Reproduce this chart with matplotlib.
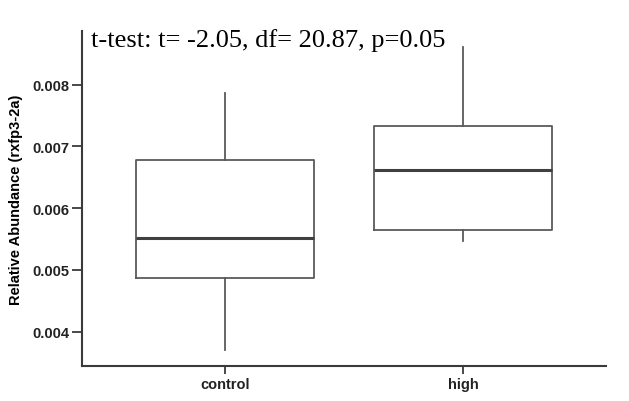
import matplotlib as mpl
import matplotlib.pyplot as plt

mpl.rcParams['font.family'] = 'Liberation Sans'

groups = ['control', 'high']
whislo = [0.003704, 0.005463]
q1 = [0.004874, 0.005641]
med = [0.005516, 0.006617]
q3 = [0.006773, 0.007328]
whishi = [0.007860, 0.008612]

stats = []
for i in range(len(groups)):
    stats.append({'label': groups[i], 'whislo': whislo[i], 'q1': q1[i],
                  'med': med[i], 'q3': q3[i], 'whishi': whishi[i], 'fliers': []})

fig = plt.figure(figsize=(6.29, 4.02), dpi=100)
ax = fig.add_axes([82/629, 1 - 366.7/402, (606-82)/629, (366.7-32)/402])

line_col = '#5a5a5a'
ax.bxp(stats, positions=[0, 1], widths=0.75, showcaps=False,
       boxprops=dict(color=line_col, linewidth=1.3),
       whiskerprops=dict(color=line_col, linewidth=1.3),
       medianprops=dict(color='#404040', linewidth=2.2))

ax.set_xlim(-0.6, 1.6)
ax.set_ylim(0.00345, 0.008866)
ax.set_yticks([0.004, 0.005, 0.006, 0.007, 0.008])
ax.set_yticklabels(['0.004', '0.005', '0.006', '0.007', '0.008'])

for s in ['top', 'right']:
    ax.spines[s].set_visible(False)
for s in ['left', 'bottom']:
    ax.spines[s].set_color('#3a3a3a')
    ax.spines[s].set_linewidth(1.5)

ax.tick_params(axis='y', length=7, width=1.3, color='#3a3a3a', labelsize=10.5, pad=2)
ax.tick_params(axis='x', length=6, width=1.3, color='#3a3a3a', labelsize=10.5, pad=2)
for lab in ax.get_xticklabels() + ax.get_yticklabels():
    lab.set_fontweight('bold')
    lab.set_color('#222222')

ax.set_ylabel('Relative Abundance (rxfp3-2a)', fontsize=10.5, fontweight='bold', labelpad=7)

fig.text(91/629, 1 - 29/402, 't-test: t= -2.05, df= 20.87, p=0.05',
         family='Liberation Serif', fontsize=19, va='top', ha='left')

plt.savefig('out.png', dpi=100)
